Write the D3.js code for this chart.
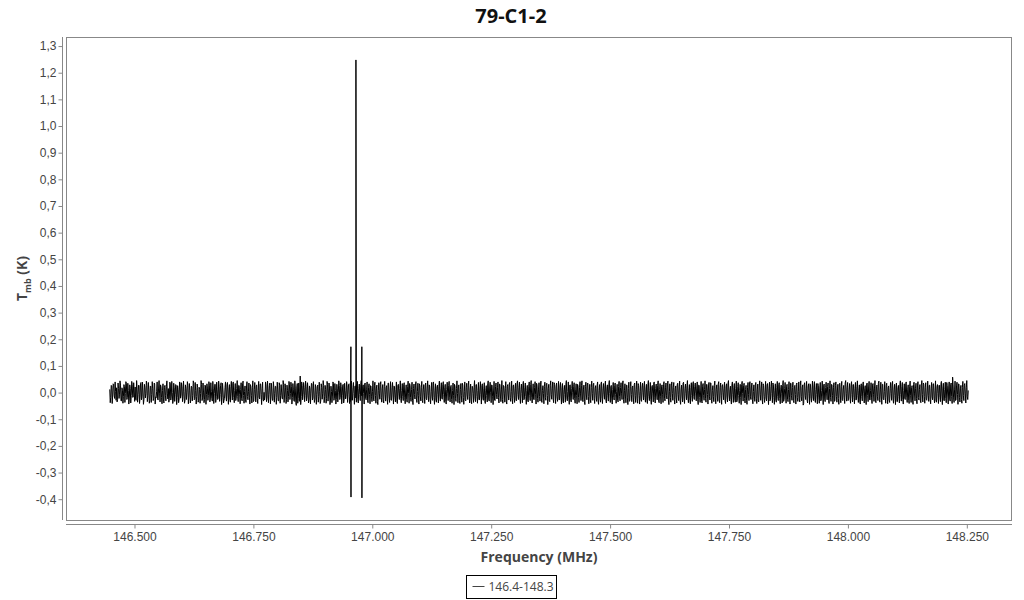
<!DOCTYPE html>
<html>
<head>
<meta charset="utf-8">
<script src="https://cdn.jsdelivr.net/npm/d3@7"></script>
<style>
  body { margin: 0; background: #fff; font-family: "Open Sans", "Noto Sans", sans-serif; }
  .tick text { font-size: 12px; fill: #444; }
</style>
</head>
<body>
<div id="chart"></div>
<script>
// spectrum channels: first and last frequency (MHz), values in mK
const noiseStart = 146.448;
const noiseEnd = 148.253;
// even channels
const noiseMK = [
  12,-18,25,-9,31,-22,4,18,-27,15,-6,28,-31,9,-14,22,-3,35,-19,7,
  -24,16,-11,30,-17,2,21,-29,13,-8,26,-20,38,-15,6,-26,19,-4,27,-12,
  10,-30,23,-7,14,-21,33,-16,5,-25,17,-2,29,-18,8,-33,20,-10,24,-5,
  15,-23,32,-13,1,-28,18,-6,27,-19,11,-24,36,-9,22,-14,3,-31,16,-1,
  26,-17,9,-27,21,-11,34,-22,7,-15,19,-29,12,-4,30,-20,2,-26,25,-8,
  17,-12,28,-24,5,-32,14,-3,31,-16,10,-21,24,-7,37,-18,6,-28,20,-13,
  29,-9,13,-25,22,-2,35,-19,8,-30,16,-14,27,-6,11,-23,33,-11,4,-27,
  21,-15,3,-20,30,-10,18,-34,12,-5,25,-22,9,-17,32,-8,15,-26,1,-13,
  28,-21,14,-7,36,-16,6,-29,19,-3,23,-18,10,-31,26,-12,2,-24,31,-9,
  18,-27,8,-14,29,-4,22,-19,13,-33,17,-48,34,-22,5,62,-15,27,-6,20,
  -11,24,-17,9,-30,15,-2,33,-20,6,-25,21,-8,28,-14,3,-32,19,-5,26,
  -16,11,-23,30,-9,17,-28,4,-13,35,-21,8,-26,14,-1,27,-18,22,-10,31,
  -24,7,-15,25,-6,33,-19,12,-29,18,-3,24,-20,10,-27,16,-7,29,-12,21,
  -4,32,-22,13,-31,20,-8,26,-16,5,-25,28,-11,17,-34,9,-2,30,-19,14,
  -27,23,-6,18,-21,36,-13,2,-28,19,-9,25,-17,11,-32,27,-5,16,-23,8,
  -14,31,-20,6,-26,22,-3,34,-18,12,-29,15,-7,28,-24,4,-12,33,-16,20,
  -30,10,-1,26,-22,17,-11,29,-25,3,-15,37,-19,9,-28,21,-6,24,-13,14,
  -21,30,-8,18,-33,12,-2,27,-17,22,-26,7,-10,31,-23,16,-4,25,-29,11,
  -12,35,-18,5,-27,20,-9,28,-15,13,-31,24,-3,19,-22,30,-14,8,-25,17,
  -6,26,-20,14,-30,9,-11,33,-24,21,-1,29,-16,6,-28,23,-8,18,-19,32,
  -13,10,-26,27,-5,16,-32,22,-9,31,-18,4,-23,25,-12,15,-29,34,-7,19,
  -21,12,-3,28,-27,18,-14,7,-31,24,-10,30,-17,2,-25,20,-6,35,-22,13,
  -15,29,-28,9,-4,23,-19,32,-11,16,-30,26,-8,14,-24,37,-2,21,-16,6,
  -26,25,-13,18,-33,11,-7,30,-20,4,-17,28,-29,15,-1,24,-23,10,-12,31,
  -18,20,-5,27,-25,13,-34,22,-9,33,-14,6,-27,19,-3,29,-21,16,-10,26,
  -31,8,-16,35,-22,14,-6,25,-28,17,-12,31,-4,21,-24,11,-19,27,-8,3,
  -29,23,-15,19,-2,32,-26,9,-13,28,-20,15,-33,24,-7,18,-17,30,-11,12,
  -23,34,-10,5,-27,21,-1,26,-18,13,-30,29,-14,7,-25,22,-5,36,-20,16,
  -9,27,-32,11,-16,24,-6,31,-22,18,-12,33,-28,3,-19,25,-3,20,-26,14,
  -17,29,-8,22,-31,10,-13,35,-24,15,-4,26,-21,8,-29,19,-11,32,-15,23,
  -2,17,-27,28,-18,6,-33,24,-10,12,-23,30,-7,21,-16,37,-25,9,-14,27,
  -20,13,-5,31,-28,19,-12,25,-1,16,-30,22,-17,34,-9,11,-26,28,-6,20,
  -24,15,-35,23,-11,7,-19,30,-3,26,-22,12,-29,18,-8,32,-16,21,-27,4,
  -13,28,-21,10,-32,25,-6,17,-25,33,-15,2,-20,29,-10,14,-31,23,-4,36,
  -18,9,-28,20,-14,31,-23,13,-2,27,-33,16,-9,24,-26,11,-17,35,-12,19,
  -30,22,-7,30,-19,5,-24,26,-15,18,-47,29,-11,14,-28,21,-3,33,-22,10,
  -16,25,-27,12,-8,34,-20,17,-31,8,-13,28,-24,19,-5,23,-29,15,-18,31,
  -10,20,-33,27,-14,6,-22,32,-9,24,-26,13,-17,36,-4,18,-30,11,-21,25,
  -7,30,-19,16,-28,22,-12,9,-35,26,-15,29,-2,14,-24,33,-11,21,-27,7,
  -20,28,-6,17,-31,23,-16,35,-25,10,-13,31,-22,4,-18,26,-9,19,-29,15,
  -3,32,-24,12,-11,27,-34,18,-14,29,-7,22,-26,8,-21,34,-17,13,-30,24,
  -12,19,-28,30,-5,16,-23,25,-19,11,-32,28,-8,36,-15,20,-25,6,-10,27,
  -27,14,-16,33,-21,9,-31,23,-4,26,-18,31,-13,17,-29,12,-22,38,-9,21,
  -24,29,-15,58,-20,10,-30,25,-7,33,-18,14,-26,20,-11,28,-5,18,-16,8
];
// odd channels (half a channel after each even one)
const noiseOddMK = [
  -38,27,-41,33,-12,40,-29,-35,36,-22,44,-31,18,-40,30,-37,41,-26,35,-43,
  29,-39,42,-18,37,-33,-25,45,-36,28,-41,34,-27,39,-44,31,-20,43,-34,38,
  -40,25,-37,41,-30,36,-43,-19,40,-28,45,-35,22,-42,33,-39,27,-31,44,-24,
  -36,39,-28,42,-41,35,-33,30,-45,26,-38,40,-21,37,-34,43,-40,29,-26,41,
  -42,34,-39,24,-31,44,-27,38,-43,32,-36,20,-40,45,-30,36,-38,28,-44,33,
  -29,41,-35,37,-23,42,-41,31,-37,39,-26,43,-33,27,-45,35,-39,-22,40,-32,
  38,-44,30,-36,42,-28,40,-38,34,-21,45,-34,26,-42,37,-31,43,-40,25,-37,
  41,-27,36,-43,23,-39,44,-30,38,-35,29,-41,42,-24,33,-45,39,-32,-28,40,
  -34,43,-38,27,-42,35,-29,41,-36,24,-44,39,-31,37,-40,30,-23,45,-37,33,
  -41,28,-35,42,-26,39,-43,34,-30,44,-38,21,-40,36,-33,-45,40,-27,38,-34,
  43,-31,37,-39,25,-42,35,-28,41,-37,30,-44,22,-36,39,-41,33,-25,45,-38,
  27,-40,42,-32,36,-45,24,-38,40,-29,34,-43,31,-35,44,-26,37,-42,28,-39,
  35,-24,41,-37,30,-41,-33,43,-28,38,-44,25,-36,42,-39,32,-30,45,-35,29,
  -43,36,-27,40,-38,33,-42,24,-34,44,-31,39,-40,28,-45,37,-25,41,-36,30,
  -39,42,-32,26,-44,35,-37,41,-29,38,-43,23,-35,40,-41,31,-26,44,-38,34,
  -30,37,-42,29,-36,43,-40,27,-33,39,-45,32,-24,41,-37,35,-43,26,-31,42,
  -38,30,-41,36,-27,44,-34,25,-42,38,-29,40,-44,33,-36,28,-39,43,-32,37,
  -25,41,-37,31,-43,39,-30,42,-35,27,-40,36,-45,24,-33,44,-38,29,-41,34,
  -36,28,-44,40,-31,35,-26,43,-39,32,-42,22,-37,45,-34,30,-40,38,-28,41,
  -43,33,-29,37,-41,26,-35,44,-32,39,-38,27,-45,42,-30,36,-24,40,-39,31,
  -34,45,-40,25,-36,41,-43,30,-28,38,-33,43,-42,29,-37,35,-31,44,-26,39,
  -41,32,-38,42,-24,36,-44,27,-35,40,-30,45,-39,33,-27,41,-43,28,-36,37,
  -32,43,-37,26,-42,39,-29,35,-45,31,-34,44,-25,40,-38,30,-41,36,-33,42,
  -28,38,-43,34,-39,27,-36,45,-31,40,-44,29,-35,42,-26,37,-40,33,-42,24,
  -37,41,-30,44,-34,28,-45,39,-27,36,-42,31,-38,43,-29,35,-41,26,-33,40,
  -44,30,-36,40,-41,34,-25,43,-39,29,-32,45,-37,27,-43,38,-28,36,-40,31,
  -35,42,-31,37,-26,44,-40,33,-38,28,-45,39,-29,41,-34,25,-42,36,-37,43,
  -40,26,-43,39,-33,35,-28,42,-36,31,-41,45,-30,38,-44,27,-35,40,-39,32,
  -27,44,-38,34,-42,29,-37,41,-31,36,-24,43,-45,33,-36,40,-29,38,-43,25,
  -39,35,-30,43,-44,28,-35,39,-41,32,-27,45,-38,30,-42,37,-33,41,-26,36,
  -31,40,-45,27,-37,42,-39,34,-29,44,-36,31,-43,38,-28,35,-40,26,-34,43,
  -42,29,-33,41,-38,36,-44,30,-27,39,-41,33,-35,45,-31,24,-43,40,-37,34,
  -36,43,-28,37,-40,31,-45,42,-32,35,-39,27,-44,38,-30,41,-26,36,-42,29,
  -33,38,-41,32,-35,44,-29,40,-43,26,-37,42,-31,34,-45,39,-27,43,-38,30,
  -44,33,-36,42,-30,37,-42,28,-39,45,-25,38,-40,31,-34,41,-43,35,-29,39,
  -38,27,-43,36,-33,40,-35,44,-31,29,-41,37,-26,42,-39,33,-44,30,-36,43,
  -30,41,-37,34,-42,26,-40,38,-28,43,-45,32,-34,39,-27,36,-41,44,-33,29,
  -43,37,-29,40,-36,31,-44,35,-38,42,-30,27,-41,45,-32,38,-25,34,-40,41,
  -35,30,-42,38,-27,44,-37,29,-43,33,-31,40,-39,26,-45,36,-34,42,-28,37,
  -41,34,-33,45,-38,28,-30,43,-36,39,-44,31,-27,41,-40,35,-42,25,-37,38,
  -29,42,-40,31,-45,36,-34,27,-39,44,-32,38,-43,33,-26,40,-37,29,-41,43,
  -37,26,-44,39,-31,35,-42,41,-28,30,-38,45,-35,32,-40,37,-29,43,-33,28,
  -42,38,-27,33,-39,44,-36,30,-41,28,-34,42,-45,35,-31,39,-38,26,-43,40,
  -32,36,-41,29,-37,43,-28,39,-44,31,-35,27,-40,42,-30,34,-39,45,-26
];

// the line features near 146.96 MHz (frequency in MHz, value in K)
const lineFreqs = [146.9550, 146.9552, 146.9656, 146.9666, 146.9780, 146.9782];
const lineVals  = [0.172, -0.392, 1.248, 0.030, 0.172, -0.395];

const yTicks = [-0.4, -0.3, -0.2, -0.1, 0, 0.1, 0.2, 0.3, 0.4, 0.5, 0.6, 0.7, 0.8, 0.9, 1.0, 1.1, 1.2, 1.3];
const xTicks = [146.5, 146.75, 147.0, 147.25, 147.5, 147.75, 148.0, 148.25];
const seriesName = "146.4-148.3";

const W = 1024, H = 600;
const box = {left: 66, right: 1012, top: 37, bottom: 520};

// build the series: noise channels plus the line channels, sorted by frequency
const step = (noiseEnd - noiseStart) / (noiseMK.length - 1);
let points = [];
noiseMK.forEach(function(v, i) {
  points.push({f: noiseStart + i * step, v: v / 1000});
});
noiseOddMK.forEach(function(v, i) {
  points.push({f: noiseStart + (i + 0.5) * step, v: v / 1000});
});
lineFreqs.forEach(function(f, i) {
  points.push({f: f, v: lineVals[i]});
});
points.sort(function(a, b) { return a.f - b.f; });

const svg = d3.select("#chart")
  .append("svg")
  .attr("width", W)
  .attr("height", H);

const x = d3.scaleLinear()
  .domain([146.356, 148.345])
  .range([box.left, box.right]);

const y = d3.scaleLinear()
  .domain([-0.478, 1.334])
  .range([box.bottom, box.top]);

// plot frame
svg.append("rect")
  .attr("x", box.left + 0.5)
  .attr("y", box.top + 0.5)
  .attr("width", box.right - box.left - 1)
  .attr("height", box.bottom - box.top)
  .attr("fill", "none")
  .attr("stroke", "#888");

// Y AXIS
const yAxis = svg.append("g")
  .attr("transform", "translate(62.5,0)")
  .call(d3.axisLeft(y)
    .tickValues(yTicks)
    .tickSize(4)
    .tickSizeOuter(0)
    .tickFormat(function(d) { return d3.format(".1f")(d).replace(".", ",").replace("\u2212", "-"); }));
yAxis.select(".domain").attr("stroke", "#888").attr("d", `M0,${box.top}V${box.bottom}`);
yAxis.selectAll(".tick line").attr("stroke", "#888");
yAxis.selectAll(".tick text").attr("x", -6);

// X AXIS
const xAxis = svg.append("g")
  .attr("transform", "translate(0,524.5)")
  .call(d3.axisBottom(x)
    .tickValues(xTicks)
    .tickSize(4)
    .tickSizeOuter(0)
    .tickFormat(d3.format(".3f")));
xAxis.select(".domain").attr("stroke", "#888").attr("d", `M${box.left},0H${box.right}`);
xAxis.selectAll(".tick line").attr("stroke", "#888");
xAxis.selectAll(".tick text").attr("y", 8);

// spectrum
svg.append("clipPath").attr("id", "plotclip")
  .append("rect")
  .attr("x", box.left).attr("y", box.top)
  .attr("width", box.right - box.left).attr("height", box.bottom - box.top);

svg.append("path")
  .datum(points)
  .attr("clip-path", "url(#plotclip)")
  .attr("fill", "none")
  .attr("stroke", "#000")
  .attr("stroke-width", 1)
  .attr("d", d3.line()
    .x(function(d) { return x(d.f); })
    .y(function(d) { return y(d.v); }));

// TITLE
svg.append("text")
  .attr("x", 511)
  .attr("y", 23)
  .attr("text-anchor", "middle")
  .style("font-size", "20px")
  .style("font-weight", "bold")
  .attr("fill", "#111")
  .text("79-C1-2");

// X AXIS LABEL
svg.append("text")
  .attr("x", (box.left + box.right) / 2)
  .attr("y", 562)
  .attr("text-anchor", "middle")
  .style("font-size", "14px")
  .style("font-weight", "bold")
  .attr("fill", "#444")
  .text("Frequency (MHz)");

// Y AXIS LABEL with subscript
const yl = svg.append("text")
  .attr("transform", `translate(27,${(box.top + box.bottom) / 2}) rotate(-90)`)
  .attr("text-anchor", "middle")
  .style("font-size", "14px")
  .style("font-weight", "bold")
  .attr("fill", "#444");
yl.append("tspan").text("T");
yl.append("tspan").attr("dy", 4).style("font-size", "9px").text("mb");
yl.append("tspan").attr("dy", -4).text(" (K)");

// LEGEND
const lg = svg.append("g").attr("transform", "translate(466.5,575.5)");
lg.append("rect")
  .attr("width", 90)
  .attr("height", 23)
  .attr("fill", "#fff")
  .attr("stroke", "#000");
lg.append("line")
  .attr("x1", 6).attr("x2", 18)
  .attr("y1", 11).attr("y2", 11)
  .attr("stroke", "#444");
lg.append("text")
  .attr("x", 22)
  .attr("y", 15.5)
  .style("font-size", "12px")
  .attr("fill", "#444")
  .text(seriesName);
</script>
</body>
</html>
